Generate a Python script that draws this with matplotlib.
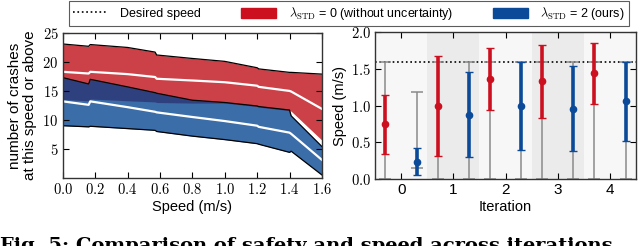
import numpy as np
import matplotlib
matplotlib.use('Agg')
import matplotlib.pyplot as plt
from matplotlib.patches import Patch
from matplotlib.lines import Line2D

plt.rcParams['font.family'] = ['Liberation Sans', 'DejaVu Sans']
plt.rcParams['mathtext.fontset'] = 'cm'

# ── LEFT: crashes vs speed ────────────────────────────────────────────────────
speed = [0.0, 0.16, 0.17, 0.4, 0.57, 0.58, 0.8, 1.0, 1.2, 1.21, 1.4, 1.41, 1.6]
red_upper = [23.1, 22.7, 23.0, 22.5, 21.7, 21.2, 20.6, 20.1, 19.0, 18.8, 18.2, 18.2, 17.9]
red_mean = [18.3, 18.0, 18.3, 17.9, 17.4, 17.1, 16.8, 16.5, 15.9, 15.7, 15.0, 14.9, 11.9]
red_lower = [13.5, 13.3, 13.6, 13.3, 13.1, 13.0, 12.9, 12.9, 12.3, 12.2, 11.6, 11.5, 6.5]
blue_upper = [17.3, 16.2, 17.0, 15.7, 14.7, 14.6, 13.4, 13.0, 12.4, 12.3, 11.7, 10.7, 5.4]
blue_mean = [13.2, 12.6, 13.2, 12.2, 11.4, 11.3, 10.5, 9.8, 9.0, 8.8, 7.8, 7.6, 3.1]
blue_lower = [9.0, 8.8, 8.9, 8.5, 8.2, 8.0, 7.2, 6.6, 5.9, 5.8, 4.4, 4.6, 0.5]

# ── RIGHT: speed per iteration ────────────────────────────────────────────────
iterations = [0, 1, 2, 3, 4]
red_speed = [0.75, 1.00, 1.36, 1.34, 1.44]
red_lo = [0.34, 0.31, 0.94, 0.83, 1.02]
red_hi = [1.15, 1.67, 1.78, 1.83, 1.86]
blue_speed = [0.23, 0.87, 0.99, 0.96, 1.06]
blue_lo = [0.05, 0.30, 0.40, 0.38, 0.52]
blue_hi = [0.42, 1.46, 1.60, 1.54, 1.60]
# min / max range (gray)
red_min = [0.0, 0.0, 0.0, 0.0, 0.0]
red_max = [1.6, 1.6, 1.6, 1.6, 1.6]
blue_min = [0.15, 0.0, 0.0, 0.0, 0.0]
blue_max = [1.19, 1.6, 1.6, 1.6, 1.6]
desired_speed = 1.6

RED_FILL = '#cc4048'
BLUE_FILL = '#00418f'
RED = '#cc1020'
BLUE = '#0b4a98'
GRAY = '#8a8a8a'

fig = plt.figure(figsize=(6.4, 2.46), dpi=100)
ax1 = fig.add_axes([0.098, 0.277, 0.405, 0.589])
ax2 = fig.add_axes([0.586, 0.272, 0.408, 0.597])

# left plot
ax1.fill_between(speed, red_lower, red_upper, color=RED_FILL, lw=0)
ax1.plot(speed, red_upper, color='k', lw=0.9)
ax1.fill_between(speed, blue_lower, blue_upper, color=BLUE_FILL, alpha=0.77, lw=0)
ax1.plot(speed, blue_upper, color='k', lw=0.9)
ax1.plot(speed, blue_lower, color='k', lw=0.9)
ax1.plot(speed, red_mean, color='white', lw=1.6)
ax1.plot(speed, blue_mean, color='white', lw=1.6)
ax1.set_xlim(0, 1.6)
ax1.set_ylim(0, 25)
xt = np.round(np.arange(0, 1.61, 0.2), 1)
ax1.set_xticks(xt)
ax1.set_xticklabels([f'${v:.1f}$' for v in xt], fontsize=10.5)
ax1.set_yticks([5, 10, 15, 20, 25])
ax1.set_yticklabels(['$5$', '$10$', '$15$', '$20$', '$25$'], fontsize=10.5)
ax1.set_xlabel('Speed (m/s)', fontsize=10.5, labelpad=2)
ax1.set_ylabel('number of crashes\nat this speed or above', fontsize=11,
               labelpad=4, linespacing=1.05)

# right plot
for i in iterations:
    ax2.axvspan(i - 0.5, i + 0.5, color='#ebebeb' if i % 2 else '#f7f7f7', lw=0, zorder=0)
ax2.axhline(desired_speed, color='k', ls=':', lw=1.2, zorder=1)

xr = np.array(iterations) - 0.3
xb = np.array(iterations) + 0.3
for xs, mn, mx in [(xr, red_min, red_max), (xb, blue_min, blue_max)]:
    mid = (np.array(mn) + np.array(mx)) / 2
    ax2.errorbar(xs, mid, yerr=[mid - np.array(mn), np.array(mx) - mid], fmt='none',
                 ecolor=GRAY, elinewidth=1.1, capsize=4, capthick=1.1, zorder=2)
for xs, m, lo, hi, c in [(xr, red_speed, red_lo, red_hi, RED), (xb, blue_speed, blue_lo, blue_hi, BLUE)]:
    m = np.array(m)
    ax2.errorbar(xs, m, yerr=[m - np.array(lo), np.array(hi) - m], fmt='o', color=c,
                 ms=4.5, elinewidth=2.6, capsize=3, capthick=1, zorder=3)
ax2.set_xlim(-0.5, 4.5)
ax2.set_ylim(0, 2.0)
ax2.set_xticks(iterations)
ax2.set_xticklabels([str(i) for i in iterations], fontsize=11)
yt = [0.0, 0.5, 1.0, 1.5, 2.0]
ax2.set_yticks(yt)
ax2.set_yticklabels([f'${v:.1f}$' for v in yt], fontsize=10.5)
ax2.set_xlabel('Iteration', fontsize=10.5, labelpad=2)
ax2.set_ylabel('Speed (m/s)', fontsize=10.5, labelpad=3)

for ax in (ax1, ax2):
    ax.tick_params(direction='in', top=True, right=True, length=4, width=0.8, pad=3)
    for s in ax.spines.values():
        s.set_linewidth(1.0)
        s.set_color('#333333')

handles = [Line2D([], [], color='k', ls=':', lw=1.2),
           Patch(facecolor=RED, edgecolor=RED),
           Patch(facecolor=BLUE, edgecolor=BLUE)]
labels = ['Desired speed',
          r'$\lambda_{\mathrm{STD}}$ = 0 (without uncertainty)',
          r'$\lambda_{\mathrm{STD}}$ = 2 (ours)']
leg = fig.legend(handles, labels, loc='upper center', ncol=3, bbox_to_anchor=(0.545, 1.0),
                 fontsize=9, frameon=True, fancybox=False, edgecolor='#333333',
                 handlelength=2.8, handleheight=0.9, columnspacing=3.2,
                 borderpad=0.3, handletextpad=1.0, borderaxespad=0.1)
leg.get_frame().set_linewidth(0.8)

# caption, cut at the bottom edge as in the original figure
fig.text(0.0, 0.036, 'Fig. 5: Comparison of safety and speed across iterations', fontsize=14,
         family='DejaVu Serif', weight='bold', va='top')

fig.savefig('out.png', dpi=100)
